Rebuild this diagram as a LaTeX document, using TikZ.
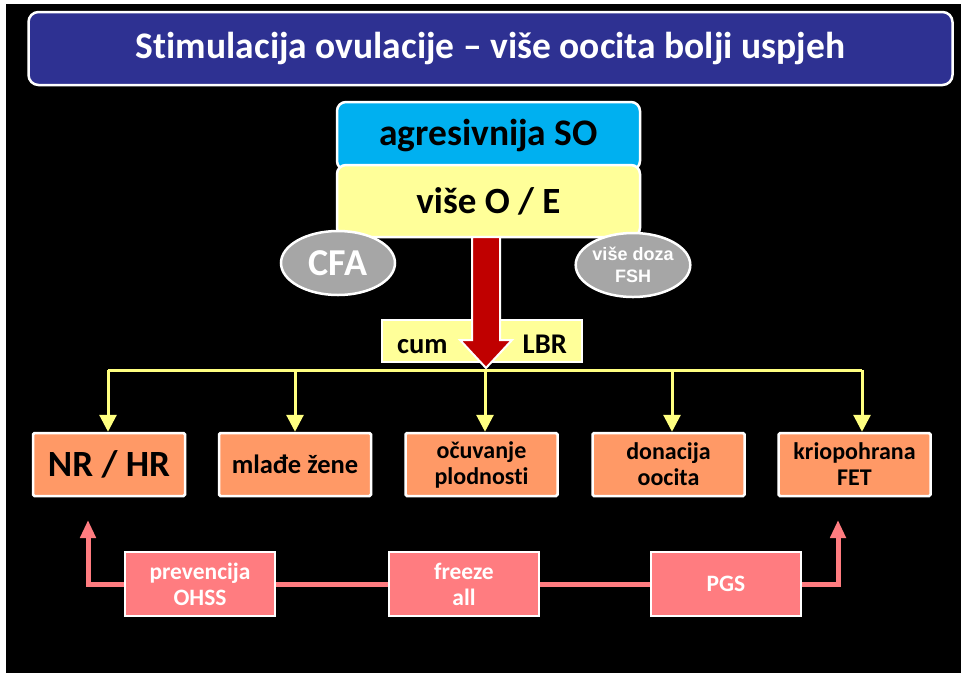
\documentclass[tikz,border=0pt]{standalone}
\usepackage{fontspec}
\setmainfont{Carlito}[Ligatures={TeX,NoCommon}]
\newfontfamily\arialf{Liberation Sans}
\usetikzlibrary{arrows.meta,shapes.geometric}
\definecolor{navy}{HTML}{2E3192}
\definecolor{cyanb}{HTML}{00B0F0}
\definecolor{yelb}{HTML}{FFFF99}
\definecolor{yell}{HTML}{FFFF80}
\definecolor{grayb}{HTML}{A6A6A6}
\definecolor{redb}{HTML}{C00000}
\definecolor{orb}{HTML}{FF9966}
\definecolor{pinkb}{HTML}{FF7C80}
\tikzset{
  box/.style={draw=white,line width=2.5pt,inner sep=0pt,align=center,font=\bfseries},
  orbox/.style={box,fill=orb,minimum width=152pt,minimum height=63pt,rounded corners=1.5pt,text=black},
  pkbox/.style={box,fill=pinkb,minimum width=150pt,minimum height=64pt,text=white,font=\bfseries\fontsize{23.5}{26}\selectfont},
  ell/.style={ellipse,draw=white,line width=2.5pt,fill=grayb,text=white,inner sep=0pt,minimum width=114pt,minimum height=64pt,align=center},
  yline/.style={draw=yell,line width=3pt},
  yarr/.style={yline,-{Triangle[width=17pt,length=17pt]}},
  pline/.style={draw=pinkb,line width=5pt},
  parr/.style={pline,-{Triangle[width=15pt,length=18pt]}}
}
\begin{document}
\begin{tikzpicture}[x=1pt,y=-1pt]
\fill[white] (0,0) rectangle (961,673);
\fill[black] (6,4) rectangle (961,673);
\useasboundingbox (0,0) rectangle (961,673);
% title
\node[box,fill=navy,rounded corners=10pt,minimum width=924pt,minimum height=73pt,text=white,font=\bfseries\fontsize{37.5}{40}\selectfont] (title) at (490.5,48.5) {Stimulacija ovulacije – više oocita bolji uspjeh};
% top boxes
\node[box,fill=cyanb,rounded corners=9pt,minimum width=303pt,minimum height=68pt,font=\bfseries\fontsize{37.5}{40}\selectfont] (so) at (488.5,136) {agresivnija SO};
\node[box,fill=yelb,rounded corners=9pt,minimum width=303pt,minimum height=72pt,font=\bfseries\fontsize{37}{40}\selectfont] (oe) at (488.5,201) {više O / E};
% ellipses
\node[ell,font=\bfseries\fontsize{38}{40}\selectfont] (cfa) at (338,263) {CFA};
\node[ell,font=\arialf\bfseries\fontsize{18}{22}\selectfont] (fsh) at (633,265) {više doza\\FSH};
% cum LBR
\node[box,fill=yelb,minimum width=200pt,minimum height=42pt] (cum) at (482,341) {};
\node[font=\bfseries\fontsize{28.5}{30}\selectfont,anchor=base west,inner sep=0pt] (cumt) at (397,353) {cum};
\node[font=\bfseries\fontsize{28.5}{30}\selectfont,anchor=base east,inner sep=0pt] (lbr) at (567,353) {LBR};
% red arrow
\filldraw[fill=redb,draw=white,line width=2pt,line join=miter]
  (472,237) -- (500,237) -- (500,340) -- (512,340) -- (486,368) -- (460,340) -- (472,340) -- cycle;
% orange boxes
\node[orbox,font=\bfseries\fontsize{37}{40}\selectfont] (b1) at (109,464.5) {NR / HR};
\node[orbox,font=\bfseries\fontsize{26.5}{28}\selectfont] (b2) at (295,464.5) {mlađe žene};
\node[orbox,font=\bfseries\fontsize{24}{26}\selectfont] (b3) at (481.5,464.5) {očuvanje\\plodnosti};
\node[orbox,font=\bfseries\fontsize{24}{26}\selectfont] (b4) at (668.5,464.5) {donacija\\oocita};
\node[orbox,font=\bfseries\fontsize{24}{26}\selectfont] (b5) at (854.5,464.5) {kriopohrana\\FET};
% yellow connectors
\draw[yline] (108,370) -- (862,370);
\coordinate (t1) at (108,370);
\coordinate (t2) at (295,370);
\coordinate (t3) at (485,370);
\coordinate (t4) at (672,370);
\coordinate (t5) at (862,370);
\draw[yarr] (t1) -- (t1 |- b1.north);
\draw[yarr] (t2) -- (t2 |- b2.north);
\draw[yarr] (t3) -- (t3 |- b3.north);
\draw[yarr] (t4) -- (t4 |- b4.north);
\draw[yarr] (t5) -- (t5 |- b5.north);
% pink boxes
\node[pkbox] (pa) at (200,584) {prevencija\\OHSS};
\node[pkbox] (pb) at (464,584) {freeze\\all};
\node[pkbox] (pc) at (726,584) {PGS};
\coordinate (la) at (88,520);
\coordinate (ra) at (838,520);
\draw[pline] (pa.east) -- (pb.west);
\draw[pline] (pb.east) -- (pc.west);
\draw[parr] (pa.west) -| (la);
\draw[parr] (pc.east) -| (ra);
\end{tikzpicture}
\end{document}
